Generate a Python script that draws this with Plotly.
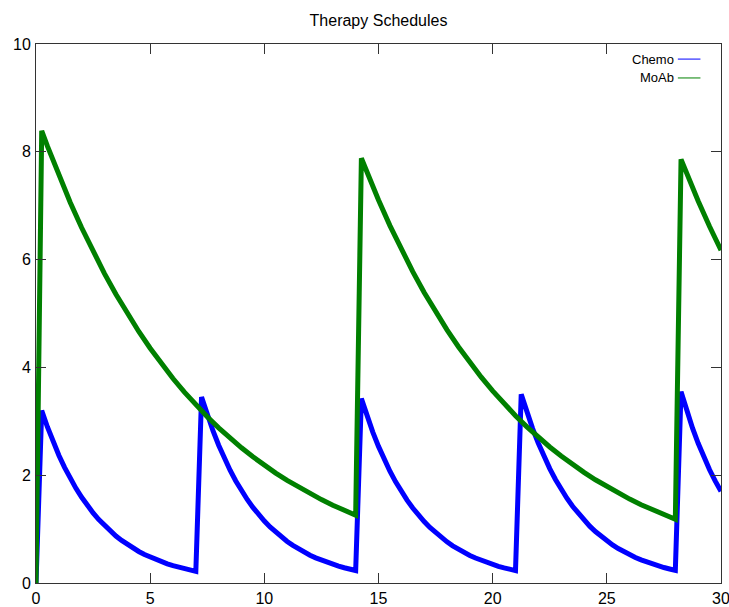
import plotly.graph_objects as go

# ---- data ----
chemo_t = [0,
           0.25, 0.5, 0.75, 1.0, 1.25, 1.5, 1.75, 2.0, 2.25, 2.5, 2.75, 3.0, 3.25, 3.5, 3.75,
           4.0, 4.25, 4.5, 4.75, 5.0, 5.25, 5.5, 5.75, 6.0, 6.25, 6.5, 6.75, 7.0,
           7.25, 7.5, 7.75, 8.0, 8.25, 8.5, 8.75, 9.0, 9.25, 9.5, 9.75, 10.0, 10.25, 10.5, 10.75,
           11.0, 11.25, 11.5, 11.75, 12.0, 12.25, 12.5, 12.75, 13.0, 13.25, 13.5, 13.75, 14.0,
           14.25, 14.5, 14.75, 15.0, 15.25, 15.5, 15.75, 16.0, 16.25, 16.5, 16.75, 17.0, 17.25, 17.5, 17.75,
           18.0, 18.25, 18.5, 18.75, 19.0, 19.25, 19.5, 19.75, 20.0, 20.25, 20.5, 20.75, 21.0,
           21.25, 21.5, 21.75, 22.0, 22.25, 22.5, 22.75, 23.0, 23.25, 23.5, 23.75, 24.0, 24.25, 24.5, 24.75,
           25.0, 25.25, 25.5, 25.75, 26.0, 26.25, 26.5, 26.75, 27.0, 27.25, 27.5, 27.75, 28.0,
           28.25, 28.5, 28.75, 29.0, 29.25, 29.5, 29.75, 30.0]
chemo_v = [0.0,
           3.200, 2.895, 2.620, 2.371, 2.145, 1.941, 1.756, 1.589, 1.438, 1.301, 1.177, 1.065, 0.964, 0.872, 0.789,
           0.714, 0.646, 0.585, 0.529, 0.479, 0.433, 0.392, 0.355, 0.321, 0.290, 0.263, 0.238, 0.215,
           3.450, 3.122, 2.825, 2.556, 2.313, 2.092, 1.893, 1.713, 1.550, 1.403, 1.269, 1.149, 1.039, 0.940, 0.851,
           0.770, 0.697, 0.630, 0.570, 0.516, 0.467, 0.423, 0.382, 0.346, 0.313, 0.283, 0.256, 0.232,
           3.420, 3.094, 2.800, 2.534, 2.292, 2.074, 1.877, 1.698, 1.537, 1.391, 1.258, 1.139, 1.030, 0.932, 0.843,
           0.763, 0.690, 0.625, 0.565, 0.512, 0.463, 0.419, 0.379, 0.343, 0.310, 0.281, 0.254, 0.230,
           3.500, 3.167, 2.865, 2.593, 2.346, 2.123, 1.921, 1.738, 1.573, 1.423, 1.288, 1.165, 1.054, 0.954, 0.863,
           0.781, 0.707, 0.639, 0.579, 0.524, 0.474, 0.429, 0.388, 0.351, 0.317, 0.287, 0.260, 0.235,
           3.550, 3.196, 2.877, 2.591, 2.332, 2.100, 1.890, 1.702]

moab_t = [0,
          0.25, 0.5, 1.0, 1.5, 2.0, 2.5, 3.0, 3.5, 4.0, 4.5, 5.0, 5.5, 6.0, 6.5, 7.0,
          7.5, 8.0, 8.5, 9.0, 9.5, 10.0, 10.5, 11.0, 11.5, 12.0, 12.5, 13.0, 13.5, 14.0,
          14.25, 14.5, 15.0, 15.5, 16.0, 16.5, 17.0, 17.5, 18.0, 18.5, 19.0, 19.5, 20.0, 20.5, 21.0,
          21.5, 22.0, 22.5, 23.0, 23.5, 24.0, 24.5, 25.0, 25.5, 26.0, 26.5, 27.0, 27.5, 28.0,
          28.25, 28.5, 29.0, 29.5, 30.0]
moab_v = [0.0,
          8.390, 8.105, 7.565, 7.060, 6.590, 6.150, 5.740, 5.358, 5.000, 4.667, 4.356, 4.065, 3.794, 3.541, 3.305,
          3.085, 2.879, 2.687, 2.508, 2.341, 2.185, 2.039, 1.903, 1.776, 1.658, 1.547, 1.444, 1.348, 1.258,
          7.880, 7.613, 7.105, 6.631, 6.189, 5.776, 5.391, 5.032, 4.696, 4.383, 4.091, 3.818, 3.564, 3.326, 3.104,
          2.897, 2.704, 2.524, 2.356, 2.199, 2.052, 1.915, 1.788, 1.668, 1.557, 1.453, 1.357, 1.266, 1.182,
          7.860, 7.593, 7.087, 6.614, 6.173]

series_names = ["Chemo", "MoAb"]
series_colors = ["#0000ff", "#008000"]
x_ticks = [0, 5, 10, 15, 20, 25, 30]
y_ticks = [0, 2, 4, 6, 8, 10]
title_text = "Therapy Schedules"

FONT = "Liberation Sans, Arial, Helvetica, sans-serif"

fig = go.Figure()
fig.add_trace(go.Scatter(x=chemo_t, y=chemo_v, mode="lines", name=series_names[0],
                         line=dict(color=series_colors[0], width=5), showlegend=False))
fig.add_trace(go.Scatter(x=moab_t, y=moab_v, mode="lines", name=series_names[1],
                         line=dict(color=series_colors[1], width=5), showlegend=False))

# gnuplot-style key: text right-aligned, sample line to the right
key_y = [0.972, 0.937]
for name, col, ky in zip(series_names, series_colors, key_y):
    fig.add_annotation(xref="paper", yref="paper", x=0.934, y=ky, text=name,
                       showarrow=False, xanchor="right", yanchor="middle",
                       font=dict(family=FONT, size=13, color="#000000"))
    fig.add_shape(type="line", xref="paper", yref="paper", x0=0.937, x1=0.970, y0=ky, y1=ky,
                  line=dict(color=col, width=1))

axis_common = dict(showline=True, linecolor="#333333", linewidth=1, mirror="ticks",
                   ticks="inside", ticklen=10, tickwidth=1, tickcolor="#333333",
                   showgrid=False, zeroline=False, automargin=False,
                   ticklabeloverflow="allow",
                   tickfont=dict(family=FONT, size=16, color="#000000"))

fig.update_xaxes(range=[0, 30], tickvals=x_ticks, ticktext=[str(v) for v in x_ticks],
                 ticklabelstandoff=1, **axis_common)
fig.update_yaxes(range=[0, 10], tickvals=y_ticks, ticktext=[str(v) for v in y_ticks],
                 ticklabelstandoff=1, **axis_common)

fig.update_layout(
    width=729, height=607,
    margin=dict(l=36, r=8, t=44, b=24),
    paper_bgcolor="white", plot_bgcolor="white",
    title=dict(text=title_text, x=0.5, xref="paper", y=1 - 20 / 607, yref="container",
               xanchor="center", yanchor="middle",
               font=dict(family=FONT, size=16, color="#000000")),
    showlegend=False,
)

fig.write_html("out.html")
